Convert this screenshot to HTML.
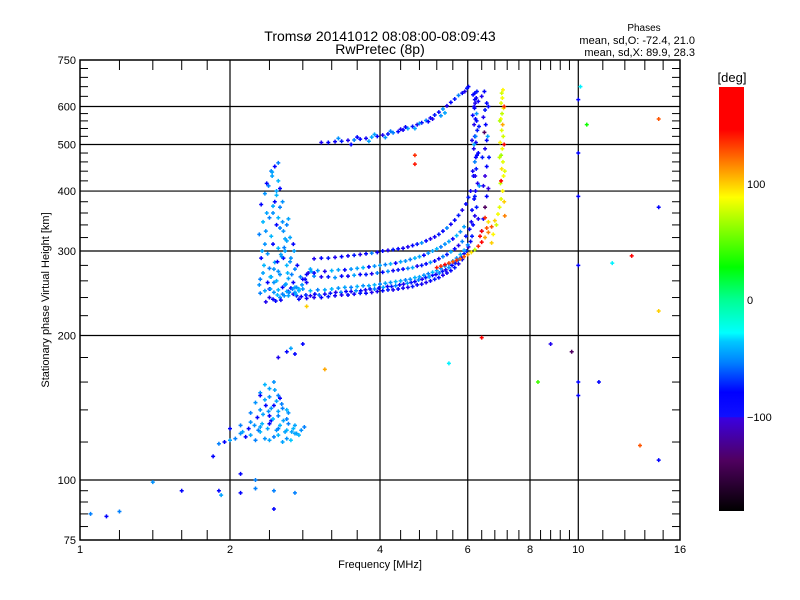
<!DOCTYPE html>
<html><head><meta charset="utf-8"><title>Ionogram</title>
<style>
html,body{margin:0;padding:0;background:#fff;}
svg{display:block;font-family:"Liberation Sans",sans-serif;}
</style></head>
<body>
<svg id="chart" width="800" height="600" viewBox="0 0 800 600" xmlns="http://www.w3.org/2000/svg">
<defs>
<linearGradient id="cbar" x1="0" y1="1" x2="0" y2="0">
<stop offset="0" stop-color="#000000"/>
<stop offset="0.12" stop-color="#500060"/>
<stop offset="0.22" stop-color="#3a00e0"/>
<stop offset="0.222" stop-color="#1010ff"/>
<stop offset="0.28" stop-color="#0000ff"/>
<stop offset="0.35" stop-color="#0080ff"/>
<stop offset="0.40" stop-color="#00c8ff"/>
<stop offset="0.42" stop-color="#00ffff"/>
<stop offset="0.50" stop-color="#00ff90"/>
<stop offset="0.575" stop-color="#00ff00"/>
<stop offset="0.68" stop-color="#a0ff00"/>
<stop offset="0.74" stop-color="#ffff00"/>
<stop offset="0.82" stop-color="#ff8000"/>
<stop offset="0.90" stop-color="#ff0000"/>
<stop offset="1" stop-color="#ff0000"/>
</linearGradient>
</defs>
<rect x="0" y="0" width="800" height="600" fill="#fff"/>
<text x="380" y="41" font-size="14" text-anchor="middle">Tromsø 20141012 08:08:00-08:09:43</text>
<text x="380" y="54" font-size="14" text-anchor="middle">RwPretec (8p)</text>
<text x="644" y="31" font-size="10" text-anchor="middle">Phases</text>
<text x="695" y="44" font-size="11" text-anchor="end">mean, sd,O: -72.4, 21.0</text>
<text x="695" y="56" font-size="11" text-anchor="end">mean, sd,X:  89.9, 28.3</text>
<g id="grid"></g>
<g id="ticks"></g>
<g id="points"></g>
<rect x="80" y="60" width="600" height="480" fill="none" stroke="#000" stroke-width="1.5"/>
<text x="380" y="568" font-size="11" text-anchor="middle">Frequency [MHz]</text>
<text x="49" y="300" font-size="11" text-anchor="middle" transform="rotate(-90 49 300)">Stationary phase Virtual Height [km]</text>
<rect x="719" y="87" width="25" height="424" fill="url(#cbar)"/>
<text x="732" y="82" font-size="13" text-anchor="middle">[deg]</text>
<text x="747" y="188" font-size="11">100</text>
<text x="747" y="304" font-size="11">0</text>
<text x="747" y="421" font-size="11">−100</text>
</svg>
<script>
// axis ticks
const xMajor = [1, 2, 4, 6, 8, 10, 16];
const xMajorLabels = ["1", "2", "4", "6", "8", "10", "16"];
const xGrid = [2, 4, 6, 8, 10];
const xMinor = [1.2,1.4,1.6,1.8,2.4,2.8,3.2,3.6,4.4,4.8,5.2,5.6,6.4,6.8,7.2,7.6,8.4,8.8,9.2,9.6,11.2,12.4,13.6,14.8];
const yMajor = [75, 100, 200, 300, 400, 500, 600, 750];
const yMajorLabels = ["75", "100", "200", "300", "400", "500", "600", "750"];
const yGrid = [100, 200, 300, 400, 500, 600];
const yMinor = [80,85,90,95,120,140,160,180,220,240,260,280,320,340,360,380,420,440,460,480,520,540,560,580,630,660,690,720];

// echo data groups: frequency [MHz], height [km], phase [deg]
const oLowF = [2.62,2.68,2.72,2.78,2.84,2.9,2.96,3.02,3.1,3.18,3.26,3.34,3.42,3.5,3.58,3.66,3.74,3.82,3.9,3.98,4.06,4.14,4.22,4.3,4.38,4.46,4.54,4.62,4.7,4.78,4.86,4.94,5.02,5.1,5.18,5.26,5.34,5.42,5.5,5.58,5.66,5.74,5.82,5.9,5.96,6.02,6.08,6.12];
const oLowH = [247,244,242,241,243,242,244,243,244,245,246,246,247,247,248,248,249,250,250,251,252,253,253,254,255,256,257,258,259,261,262,264,265,267,268,270,272,274,277,280,283,287,291,296,300,306,314,322];
const oLowP = [-100,-110,-95,-105,-90,-110,-100,-75,-105,-95,-110,-70,-100,-105,-65,-100,-110,-95,-70,-100,-60,-105,-95,-70,-100,-110,-65,-95,-100,-70,-110,-95,-60,-100,-105,-70,-95,-110,-65,-100,-95,-70,-105,-100,-90,-110,-100,-95];
const oLow2F = [2.7,2.8,2.9,3.0,3.1,3.2,3.3,3.4,3.5,3.6,3.7,3.8,3.9,4.0,4.1,4.2,4.3,4.4,4.5,4.6,4.7,4.8,4.9,5.0,5.1,5.2,5.3,5.4,5.5,5.6,5.7,5.8,5.9,6.0];
const oLow2H = [252,250,248,249,249,250,251,252,252,253,254,254,255,256,257,258,259,260,261,262,264,265,267,269,271,273,276,279,282,286,290,295,301,309];
const oLow2P = [-60,-65,-55,-70,-60,-55,-65,-60,-70,-55,-65,-60,-55,-70,-60,-65,-55,-60,-70,-65,-55,-60,-65,-70,-55,-60,-65,-55,-70,-60,-65,-55,-60,-70];
const oLow3F = [2.75,2.85,2.95,3.05,3.15,3.25,3.35,3.45,3.55,3.65,3.75,3.85,3.95,4.05,4.15,4.25,4.35,4.45,4.55,4.65,4.75,4.85,4.95,5.05,5.15,5.25,5.35,5.45,5.55,5.65,5.75,5.85];
const oLow3H = [238,239,240,240,241,242,243,243,244,245,245,246,247,248,249,249,250,251,252,253,255,256,258,260,262,264,267,270,273,277,282,288];
const oLow3P = [-100,-105,-110,-100,-95,-105,-110,-100,-105,-95,-100,-110,-105,-100,-95,-110,-100,-105,-110,-95,-100,-105,-110,-100,-95,-100,-110,-105,-100,-95,-110,-100];
const oMidF = [2.85,2.95,3.05,3.15,3.25,3.35,3.45,3.55,3.65,3.75,3.85,3.95,4.05,4.15,4.25,4.35,4.45,4.55,4.65,4.75,4.85,4.95,5.05,5.15,5.25,5.35,5.45,5.55,5.65,5.75,5.85,5.95,6.05,6.1];
const oMidH = [268,266,265,265,264,266,266,267,268,268,269,270,271,272,273,274,275,276,277,279,280,282,284,286,289,292,295,299,303,308,314,322,333,345];
const oMidP = [-100,-70,-110,-95,-65,-100,-105,-60,-100,-95,-110,-70,-100,-65,-105,-95,-100,-70,-60,-110,-95,-100,-65,-100,-105,-70,-95,-60,-100,-110,-70,-95,-100,-105];
const oMid2F = [2.9,3.0,3.1,3.2,3.3,3.4,3.5,3.6,3.7,3.8,3.9,4.0,4.1,4.2,4.3,4.4,4.5,4.6,4.7,4.8,4.9,5.0,5.1,5.2,5.3,5.4,5.5,5.6,5.7,5.8,5.9];
const oMid2H = [275,273,272,273,274,274,275,276,277,278,279,280,281,282,283,285,286,288,290,292,294,297,300,303,306,310,314,318,323,329,337];
const oMid2P = [-60,-65,-110,-55,-60,-100,-65,-60,-55,-100,-65,-60,-70,-55,-100,-60,-65,-70,-55,-60,-100,-65,-60,-55,-70,-65,-60,-100,-55,-65,-60];
const oUpF = [2.95,3.05,3.15,3.25,3.35,3.45,3.55,3.65,3.75,3.85,3.95,4.05,4.15,4.25,4.35,4.45,4.55,4.65,4.75,4.85,4.95,5.05,5.15,5.25,5.35,5.45,5.55,5.65,5.75,5.85,5.95,6.02,6.08];
const oUpH = [289,290,290,291,292,293,294,295,296,297,298,300,301,302,303,304,306,308,310,312,315,318,321,325,330,335,341,348,356,365,376,388,400];
const oUpP = [-110,-100,-95,-110,-100,-105,-95,-110,-100,-70,-105,-100,-110,-95,-100,-105,-110,-100,-95,-65,-100,-110,-105,-95,-100,-70,-105,-100,-95,-110,-100,-95,-105];
const oVertF = [6.15,6.2,6.25,6.18,6.22,6.28,6.16,6.24,6.2,6.26,6.17,6.23,6.2,6.27,6.18,6.22,6.25,6.19,6.21,6.24,6.2,6.26,6.18,6.23,6.21,6.2,6.25,6.18,6.22,6.2,6.3,6.12,6.33,6.14,6.3,6.12,6.32,6.14,6.3,6.15];
const oVertH = [340,355,370,385,400,415,430,445,460,475,490,505,520,535,550,565,580,595,610,625,640,645,500,470,430,390,560,600,520,620,350,365,410,440,480,510,545,575,615,635];
const oVertP = [-100,-110,-95,-100,-105,-110,-100,-95,-70,-100,-110,-105,-100,-95,-110,-100,-65,-100,-110,-105,-100,-95,-60,-100,-110,-95,-100,-105,-70,-100,-110,-100,-65,-105,-100,-110,-95,-100,-105,-100];
const oVert2F = [6.4,6.45,6.5,6.55,6.45,6.5,6.55,6.42,6.5,6.55,6.48,6.52,6.45,6.5,6.55,6.4,6.48,6.6,6.62,6.58,6.6];
const oVert2H = [330,350,370,390,410,430,450,470,490,510,530,550,570,590,610,630,645,405,470,520,600];
const oVert2P = [-110,-100,-130,-100,-110,-120,-100,-95,-110,-100,-130,-100,-110,-95,-100,-110,-100,-120,-95,-60,-100];
const xLowF = [5.2,5.3,5.4,5.5,5.6,5.7,5.8,5.9,6.0,6.1,6.2,6.3,6.4,6.5,6.6,6.7,6.8,6.9,6.95,6.6,6.4,6.7,6.5,6.35,6.55,6.75,6.85];
const xLowH = [277,279,281,283,285,287,289,292,295,298,302,307,313,320,328,337,347,358,370,345,330,312,352,322,335,325,340];
const xLowP = [145,140,150,135,130,140,125,130,115,95,70,140,150,110,120,130,100,85,80,95,150,100,140,160,130,90,75];
const xVertF = [7.0,7.05,6.98,7.08,7.02,7.06,7.0,7.04,6.97,7.07,7.02,7.05,6.99,7.03,7.08,7.0,7.04,7.02,7.06,7.0,7.1,7.1,7.12,6.95,7.12,6.96,7.1];
const xVertH = [385,400,415,430,445,460,475,490,505,520,535,550,565,580,595,610,625,640,650,420,500,600,355,470,440,560,380];
const xVertP = [80,90,70,85,95,80,60,85,90,75,80,110,85,70,90,80,85,75,90,150,160,140,120,70,80,65,100];
const f2hopF = [3.05,3.15,3.25,3.35,3.45,3.55,3.65,3.75,3.85,3.95,4.05,4.15,4.25,4.35,4.45,4.55,4.65,4.75,4.85,4.95,5.05,5.15,5.25,5.35,5.45,5.55,5.65,5.75,5.85,5.92,5.98,6.02,3.3,3.6,3.9,4.2,4.5,4.8,5.1,5.4,3.5,3.8,4.1,4.4,4.7,5.0,5.3];
const f2hopH = [505,505,507,508,510,511,513,515,518,520,523,526,529,532,536,540,545,550,555,561,568,576,584,593,602,612,622,633,640,645,655,660,515,518,525,533,544,553,565,582,500,508,517,538,540,558,574];
const f2hopP = [-110,-100,-105,-95,-110,-70,-100,-105,-60,-100,-110,-95,-70,-100,-105,-60,-95,-110,-100,-70,-105,-95,-100,-65,-110,-100,-95,-70,-100,-110,-95,-100,-65,-100,-60,-70,-100,-65,-110,-60,-100,-60,-65,-110,-60,-100,-65];
const spreadF = [2.3,2.35,2.4,2.45,2.5,2.55,2.6,2.65,2.7,2.75,2.3,2.38,2.42,2.48,2.52,2.58,2.62,2.68,2.72,2.34,2.4,2.46,2.5,2.56,2.6,2.66,2.32,2.38,2.44,2.5,2.54,2.6,2.36,2.42,2.48,2.52,2.58,2.44,2.5,2.46,2.52,2.48,2.55,2.5,2.42,2.46,2.58,2.64,2.7,2.8,2.85,2.36,2.44,2.52,2.62];
const spreadH = [245,248,250,246,249,244,247,251,246,250,262,258,265,260,268,255,263,258,252,280,276,284,272,290,280,268,300,296,310,304,292,315,330,322,340,335,318,360,352,380,370,400,345,420,440,450,300,285,275,262,258,235,238,240,242];
const spreadP = [-70,-60,-100,-65,-55,-70,-60,-100,-65,-55,-70,-100,-60,-55,-65,-70,-60,-100,-65,-55,-70,-60,-65,-100,-55,-70,-60,-65,-100,-55,-70,-60,-65,-55,-100,-70,-60,-65,-55,-100,-70,-60,-65,-55,-70,-100,-60,-65,-70,-100,-105,-110,-100,-65,-60];
const spread2F = [2.29,2.33,2.31,2.35,2.29,2.33,2.37,2.31,2.35,2.39,2.43,2.41,2.45,2.49,2.53,2.57,2.61,2.65,2.69,2.73,2.77,2.41,2.45,2.49,2.55,2.59,2.63,2.67,2.71,2.75,2.79,2.83,2.87,2.91,2.95,2.4,2.44,2.48,2.52,2.56,2.6,2.64,2.68,2.4,2.47,2.53,2.57,2.37,2.43,2.5,2.55,2.62];
const spread2H = [255,270,290,310,325,345,360,375,395,410,430,265,275,285,295,305,270,290,300,280,265,250,258,243,252,256,246,250,244,248,255,262,270,272,270,352,372,392,405,330,340,320,310,240,236,237,242,415,438,458,380,350];
const spread2P = [-65,-60,-100,-65,-70,-55,-60,-100,-65,-70,-60,-55,-65,-100,-60,-70,-55,-65,-60,-100,-70,-60,-65,-55,-100,-60,-65,-70,-60,-55,-65,-100,-110,-60,-100,-70,-60,-55,-100,-65,-70,-60,-100,-110,-100,-105,-65,-100,-60,-70,-65,-60];
const esF = [1.9,1.95,2.0,2.05,2.1,2.15,2.2,2.25,2.3,2.35,2.4,2.45,2.5,2.55,2.6,2.65,2.7,2.75,2.0,2.1,2.2,2.3,2.4,2.5,2.6,2.7,2.2,2.3,2.4,2.5,2.6,2.25,2.35,2.45,2.55,2.3,2.4,2.5,2.35,2.45];
const esH = [119,120,121,122,125,123,124,121,126,122,121,123,124,120,122,121,125,124,128,130,132,129,131,128,127,130,138,140,136,139,134,145,147,143,141,152,155,150,158,160];
const esP = [-70,-100,-60,-70,-65,-100,-60,-70,-55,-65,-60,-70,-55,-60,-65,-50,-60,-55,-100,-70,-65,-60,-100,-70,-55,-60,-70,-65,-100,-60,-70,-65,-60,-100,-70,-65,-60,-70,-55,-65];
const es2F = [2.12,2.18,2.24,2.28,2.32,2.38,2.42,2.48,2.52,2.58,2.62,2.68,2.72,2.78,2.82,2.27,2.33,2.39,2.44,2.5,2.56,2.62,2.66,2.36,2.42,2.48,2.54,2.6,2.3,2.4,2.46,2.52];
const es2H = [126,128,130,127,131,128,133,127,130,126,131,128,125,127,129,135,137,139,134,136,133,138,126,143,141,146,144,140,150,149,154,148];
const es2P = [-60,-100,-65,-70,-55,-60,-100,-65,-55,-60,-70,-55,-60,-65,-70,-100,-60,-65,-55,-70,-60,-65,-60,-100,-65,-60,-70,-55,-100,-65,-60,-100];
const scatF = [1.05,1.13,1.2,1.4,1.6,1.9,1.92,2.1,2.25,2.45,2.7,2.45,2.25,2.1,4.7,4.7,6.4,5.5,3.1,8.3,8.8,9.7,10,10,11,10,10,10,10,10.4,11.7,12.8,13.3,14.5,14.5,14.5,14.5,10.1,2.8,2.6,2.5,2.85,1.85,2.65,2.7];
const scatH = [85,84,86,99,95,95,93,94,96,95,94,87,100,103,475,455,198,175,170,160,192,185,160,150,160,620,480,390,280,550,283,293,118,565,370,225,110,660,192,185,180,230,112,188,183];
const scatP = [-70,-100,-70,-65,-100,-100,-60,-100,-70,-70,-70,-100,-70,-100,140,145,160,-40,110,40,-110,-130,-100,-100,-100,-100,-100,-100,-100,30,-40,160,130,130,-100,100,-100,-40,-100,-100,-110,100,-100,-60,-100];

const groups = [
  ["o-trace-low", oLowF, oLowH, oLowP],
  ["o-trace-low-2", oLow2F, oLow2H, oLow2P],
  ["o-trace-low-3", oLow3F, oLow3H, oLow3P],
  ["o-trace-mid", oMidF, oMidH, oMidP],
  ["o-trace-mid-2", oMid2F, oMid2H, oMid2P],
  ["o-trace-up", oUpF, oUpH, oUpP],
  ["o-critical-vertical", oVertF, oVertH, oVertP],
  ["o-critical-vertical-2", oVert2F, oVert2H, oVert2P],
  ["x-trace-low", xLowF, xLowH, xLowP],
  ["x-critical-vertical", xVertF, xVertH, xVertP],
  ["f2-two-hop", f2hopF, f2hopH, f2hopP],
  ["spread-f", spreadF, spreadH, spreadP],
  ["spread-f-2", spread2F, spread2H, spread2P],
  ["es-cluster", esF, esH, esP],
  ["es-cluster-2", es2F, es2H, es2P],
  ["noise-scatter", scatF, scatH, scatP]
];

const X0 = 80, X1 = 680, Y0 = 540, Y1 = 60;
function xs(f){ return X0 + (X1 - X0) * Math.log(f) / Math.log(16); }
function ys(h){ return Y0 - (Y0 - Y1) * Math.log10(h / 75); }

const cmapStops = [[-180,0,0,0],[-130,80,0,96],[-120,58,0,224],[-100,0,0,255],[-70,0,128,255],[-50,0,200,255],[-37,0,255,255],[0,0,255,144],[27,0,255,0],[60,160,255,0],[88,255,255,0],[120,255,128,0],[150,255,0,0],[180,255,0,0]];
function color(p){
  for (let i = 1; i < cmapStops.length; i++){
    const a = cmapStops[i-1], b = cmapStops[i];
    if (p <= b[0]){
      const t = Math.max(0, (p - a[0]) / (b[0] - a[0]));
      return "rgb(" + [1,2,3].map(k => Math.round(a[k] + (b[k]-a[k]) * t)).join(",") + ")";
    }
  }
  return "rgb(255,0,0)";
}

const NS = "http://www.w3.org/2000/svg";
function mk(tag, attrs, parent){
  const el = document.createElementNS(NS, tag);
  for (const k in attrs) el.setAttribute(k, attrs[k]);
  parent.appendChild(el);
  return el;
}

const grid = document.getElementById("grid");
xGrid.forEach(v => {
  const l = mk("line", {x1: xs(v), x2: xs(v), y1: Y1, y2: Y0, stroke: "#000", "stroke-width": 1.2}, grid);
  
  
});
yGrid.forEach(v => {
  const l = mk("line", {x1: X0, x2: X1, y1: ys(v), y2: ys(v), stroke: "#000", "stroke-width": 1.2}, grid);
  
  
});

const ticks = document.getElementById("ticks");
xMinor.forEach(v => {
  const x = xs(v);
  const a = mk("line", {x1: x, x2: x, y1: Y0, y2: Y0 - 10, stroke: "#000", "stroke-width": 1}, ticks);
  
  
  const b = mk("line", {x1: x, x2: x, y1: Y1, y2: Y1 + 10, stroke: "#000", "stroke-width": 1}, ticks);
  
  
});
yMinor.forEach(v => {
  const y = ys(v);
  const a = mk("line", {x1: X0, x2: X0 + 8, y1: y, y2: y, stroke: "#000", "stroke-width": 1}, ticks);
  
  
  const b = mk("line", {x1: X1, x2: X1 - 8, y1: y, y2: y, stroke: "#000", "stroke-width": 1}, ticks);
  
  
});
xMajor.forEach((v, i) => {
  const t = mk("text", {x: xs(v), y: 553, "font-size": 11, "text-anchor": "middle"}, ticks);
  t.textContent = xMajorLabels[i];
  
  
});
yMajor.forEach((v, i) => {
  const t = mk("text", {x: 76, y: ys(v) + 4, "font-size": 11, "text-anchor": "end"}, ticks);
  t.textContent = yMajorLabels[i];
  
  
});

const pts = document.getElementById("points");
groups.forEach(g => {
  const gr = mk("g", {}, pts);
  
  
  const F = g[1], H = g[2], P = g[3];
  for (let i = 0; i < F.length; i++){
    const x = xs(F[i]), y = ys(H[i]);
    const p = mk("path", {d: "M" + (x-2) + " " + y + "h4M" + x + " " + (y-2) + "v4", stroke: color(P[i]), "stroke-width": 1.5, fill: "none"}, gr);
    
    
  }
});
</script>
</body></html>
